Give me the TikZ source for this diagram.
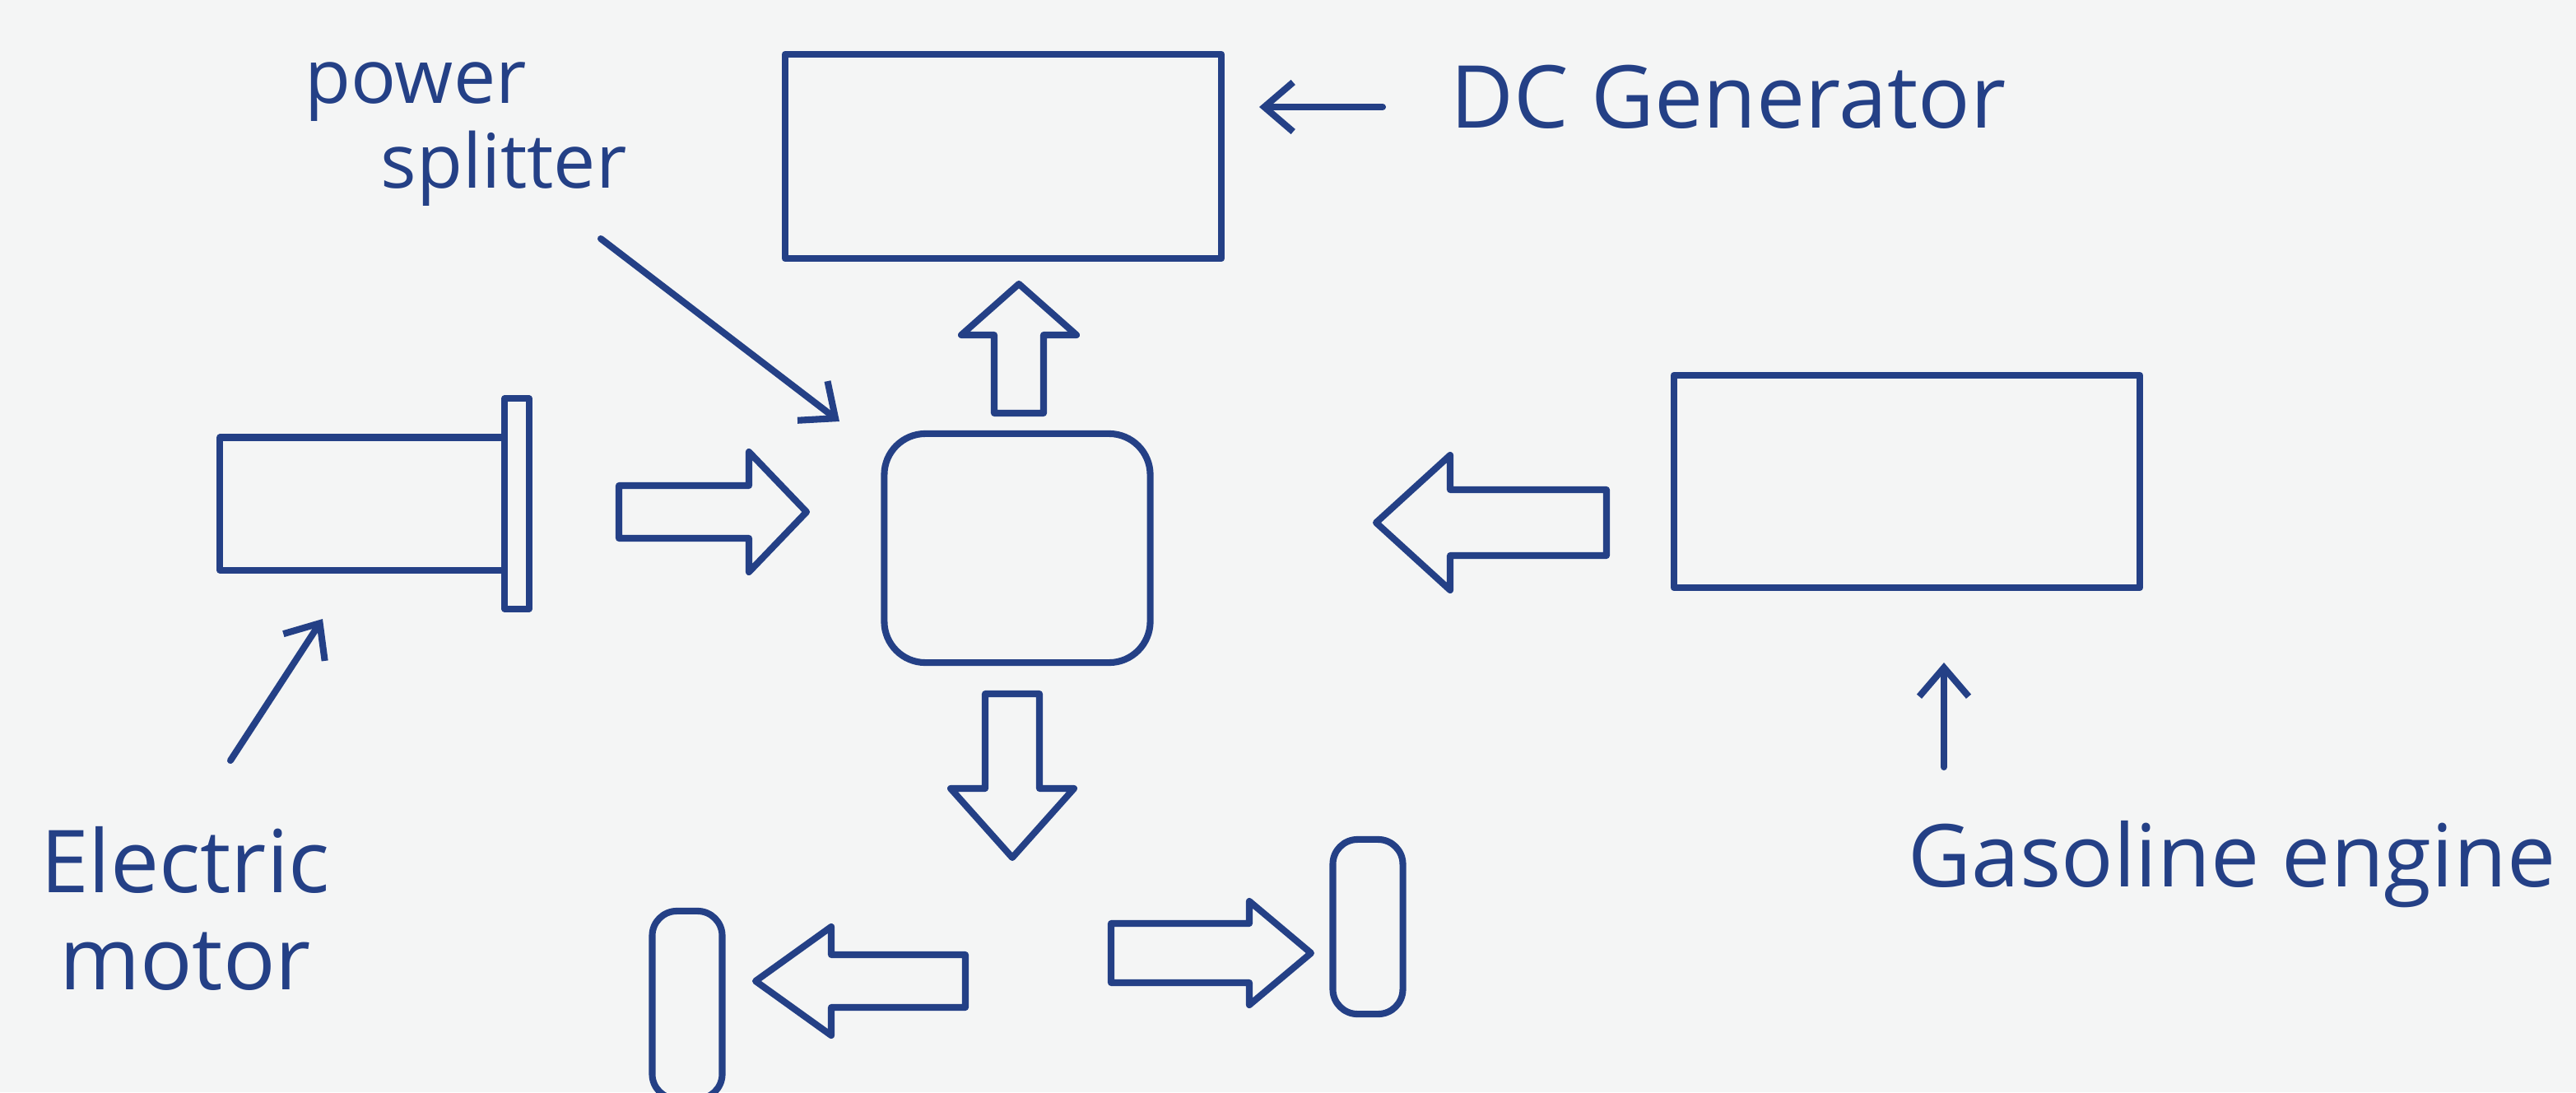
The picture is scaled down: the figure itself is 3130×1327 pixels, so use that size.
\documentclass[tikz,border=0pt]{standalone}
\usepackage{fontspec}
\setmainfont{Open Sans}
\usetikzlibrary{arrows.meta}
\definecolor{ink}{RGB}{36,64,134}
\definecolor{paper}{RGB}{244,245,245}

\tikzset{
  inkline/.style={draw=ink, line width=2.3pt, line join=round, line cap=round},
  box/.style={inkline, rectangle, inner sep=0pt},
  wheel/.style={box, rounded corners=0.3cm, minimum width=0.85cm},
  label/.style={text=ink, inner sep=0pt, font=\fontsize{30}{36}\selectfont},
  smalllabel/.style={label, font=\fontsize{26}{31}\selectfont},
  pointer/.style={inkline, -{Straight Barb[length=0.35cm, width=0.6cm]}},
  % block arrow pointing along +x: #1 total length, #2 head length,
  % #3 half width of the shaft, #4 half width of the head
  pics/blockarrow/.style n args={4}{code={
    \draw[inkline] (0,-#3) -- ({#1-#2},-#3) -- ({#1-#2},-#4) -- (#1,0)
      -- ({#1-#2},#4) -- ({#1-#2},#3) -- (0,#3) -- cycle;
  }}
}

\begin{document}
\begin{tikzpicture}[x=0.01cm, y=-0.01cm]
  \fill[paper] (0,0) rectangle (3130,1327);
  \useasboundingbox (0,0) rectangle (3130,1327);

  % main components
  \node[box, minimum width=5.30cm, minimum height=2.48cm] (gen) at (1219,190) {};
  \node[box, rounded corners=0.5cm, minimum width=3.23cm, minimum height=2.78cm] (split) at (1236,666) {};
  \node[box, minimum width=5.66cm, minimum height=2.58cm] (engine) at (2317,585) {};
  \node[box, minimum width=3.45cm, minimum height=1.61cm] (motor) at (440,612) {};
  \node[box, minimum width=0.30cm, minimum height=2.55cm] (plate) at (628,612) {};
  \node[wheel, minimum height=2.28cm] (wheelL) at (835,1221) {};
  \node[wheel, minimum height=2.12cm] (wheelR) at (1662,1126) {};

  % power flow between the components
  \pic[rotate=90]  at (1238,502)  {blockarrow={157}{62}{30}{70}};
  \pic             at (752,622)   {blockarrow={228}{70}{32}{73}};
  \pic[rotate=180] at (1952,635)  {blockarrow={280}{90}{40}{82}};
  \pic[rotate=-90] at (1230,843)  {blockarrow={199}{84}{33}{75}};
  \pic[rotate=180] at (1173,1192) {blockarrow={255}{92}{32}{66}};
  \pic             at (1350,1158) {blockarrow={243}{75}{36}{63}};

  % labels
  \node[smalllabel] (lpower) at (505,112) {power};
  \node[smalllabel] (lsplit) at (612,205) {splitter};
  \node[label] (lgen) at (2100,118) {DC Generator};
  \node[label] (lelec) at (225,1045) {Electric};
  \node[label] (lmotor) at (225,1168) {motor};
  \node[label] (lengine) at (2712,1050) {Gasoline engine};

  % leader arrows from the labels
  \coordinate (splitS) at (730,290);
  \coordinate (splitE) at (1020,512);
  \coordinate (genS) at (1680,130);
  \coordinate (genE) at (1530,130);
  \coordinate (motS) at (280,924);
  \coordinate (motE) at (392,752);
  \coordinate (engS) at (2362,932);
  \coordinate (engE) at (2362,805);
  \draw[pointer] (splitS) -- (splitE);
  \draw[pointer] (genS) -- (genE);
  \draw[pointer] (motS) -- (motE);
  \draw[pointer] (engS) -- (engE);
\end{tikzpicture}
\end{document}
